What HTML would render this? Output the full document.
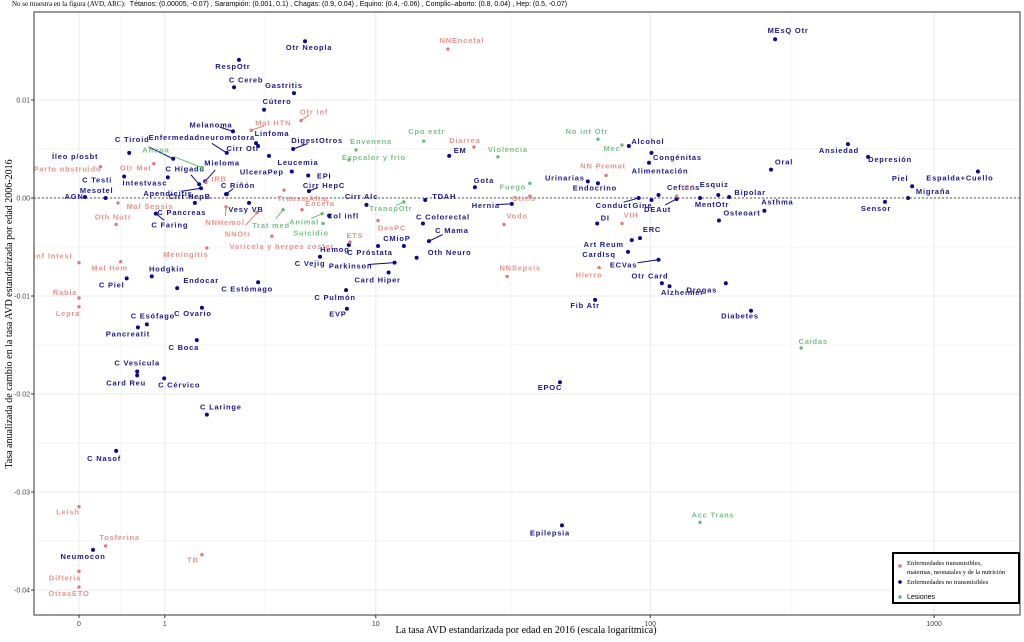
<!DOCTYPE html>
<html><head><meta charset="utf-8"><style>
body{margin:0;background:#fff;width:1024px;height:637px;overflow:hidden}
svg{font-family:"Liberation Sans",sans-serif}
.lb{font-size:7.5px;letter-spacing:0.8px;font-weight:bold}
</style></head><body>
<svg id="chart" width="1024" height="637" viewBox="0 0 1024 637" xmlns="http://www.w3.org/2000/svg">
<text x="12" y="6" font-size="7"><tspan font-family="Liberation Serif,serif">No se muestra en la figura (AVD, ARC):</tspan><tspan dx="4">Tétanos: (0.00005, -0.07) ,  Sarampión: (0.001, 0.1) ,  Chagas: (0.9, 0.04) ,  Equino: (0.4, -0.06) ,  Complic–aborto: (0.8, 0.04) ,  Hep: (0.5, -0.07)</tspan></text>
<g id="grid"></g>
<g id="marks"></g>
<rect x="34" y="12" width="986" height="603" fill="none" stroke="#555" stroke-width="1.2"/>
<g id="axes"></g>
<text x="526" y="633" text-anchor="middle" font-family="Liberation Serif,serif" font-size="10">La tasa AVD estandarizada por edad en 2016 (escala logarítmica)</text>
<text transform="translate(12,314) rotate(-90)" text-anchor="middle" font-family="Liberation Serif,serif" font-size="10">Tasa anualizada de cambio en la tasa AVD estandarizada por edad 2006-2016</text>
<g>
<rect x="893" y="553" width="126" height="50" fill="#fff" stroke="#000" stroke-width="2"/>
<circle cx="900" cy="566" r="1.8" fill="#e07b70"/>
<text x="907" y="565" font-family="Liberation Serif,serif" font-size="6.5">Enfermedades transmisibles,</text>
<text x="907" y="574" font-family="Liberation Serif,serif" font-size="6.5">maternas, neonatales y de la nutrición</text>
<circle cx="900" cy="582" r="1.8" fill="#00008b"/>
<text x="907" y="584" font-family="Liberation Serif,serif" font-size="6.5">Enfermedades no transmisibles</text>
<circle cx="900" cy="597" r="1.8" fill="#66bb77"/>
<text x="907" y="599" font-size="7">Lesiones</text>
</g>
</svg>
<script>
const names=["Otr Neopla","RespOtr","C Cereb","Gastritis","Cútero","Melanoma","Linfoma","Enfermedadneuromotora","Cirr Otr","Leucemia","DigestOtros","C Tiroid","Íleo p/osbt","Mieloma","C Hígado","UlceraPep","EPI","C Testi","Intestvasc","C Riñón","Cirr HepC","Mesotel","AGN","Apendicitis","Cirr HepB","Cirr Alc","TDAH","C Pancreas","Vesy VB","C Faring","Col infl","Hemog","C Vejig","C Próstata","C Colorectal","C Mama","CMioP","Oth Neuro","Parkinson","Card Hiper","C Pulmón","EVP","Hodgkin","Endocar","C Estómago","C Piel","C Esófago","Pancreatit","C Ovario","C Boca","C Vesícula","Card Reu","C Cérvico","C Laringe","C Nasof","Neumocon","Gota","Hernia","Urinarias","Endocrino","Alcohol","Congénitas","Alimentación","Conduct","Gine","Ceftens","DEAut","DI","ERC","Art Reum","CardIsq","ECVas","Otr Card","Alzheimer","Drogas","Fib Atr","Esquiz","MentOtr","Bipolar","Osteoart","Asthma","Oral","Ansiedad","Depresión","Piel","Migraña","Espalda+Cuello","Sensor","MEsQ Otr","Diabetes","EPOC","Epilepsia","EM",
"NNEncefal","Otr Inf","Mat HTN","Diarrea","Parto obstruido","Otr Mat","IRB","NN Premat","IRS","TransmAlim","Encefa","Otitis","Mal Sepsis","Oth Nutr","NNHemol","NNOtr","Varicela y herpes zoster","ETS","DesPC","Vodo","VIH","Meningitis","Inf Intest","Mal Hem","Rabia","Lepra","NNSepsis","Hierro","Leish","Tosferina","TB","Difteria","OtrasETO",
"Ahoga","Envenena","Cpo extr","Expcalor y frio","Violencia","No int Otr","Mec","Fuego","TranspOtr","Trat med","Animal","Suicidio","Caidas","Acc Trans"];
const avd=[5.21,2.64,2.50,4.68,3.46,2.47,3.18,2.30,3.25,3.64,4.64,1.14,0.50,1.77,1.64,4.58,5.37,0.44,1.05,2.28,5.41,0.24,0.05,1.68,2.30,9.2,15.4,1.55,2.95,0.86,6.54,7.85,6.01,10.2,15.1,15.9,12.8,14.3,11.8,11.2,7.65,7.71,0.80,1.21,3.25,0.47,0.73,0.61,1.70,1.59,0.60,0.60,0.99,1.81,0.35,0.12,23.5,32,60,65.2,84,101,99,91,101,107,124,64.8,92,86,83.4,107,110,117,185,63.7,174,150,190,175,253,267,498,586,837,810,1425,672,276,227,47.7,48.5,18.9,
18.7,5.01,3.02,23.3,0.19,0.83,1.79,69.7,124,4.24,5.06,37.2,0.37,0.35,2.28,3.21,3.75,7.93,10.2,30,79.4,1.81,0,0.40,0,0,30.8,65.8,0,0.24,1.70,0,0,
1.70,8.38,15.2,7.85,28.5,65.2,79.4,37.2,12.8,4.20,6.13,6.18,341,150];
const arc=[0.0160,0.0141,0.0113,0.0107,0.0090,0.0068,0.0056,0.0046,0.0053,0.0043,0.0050,0.0040,0.0046,0.0017,0.0014,0.0027,0.0023,0.0022,0.0021,0.0004,0.0007,0,0.0001,0.0010,0.0004,-0.0007,-0.0002,-0.0005,-0.0005,-0.0016,-0.0018,-0.0048,-0.0060,-0.0049,-0.0026,-0.0044,-0.0049,-0.0061,-0.0066,-0.0076,-0.0094,-0.0113,-0.0080,-0.0092,-0.0086,-0.0082,-0.0129,-0.0132,-0.0112,-0.0145,-0.0177,-0.0181,-0.0184,-0.0221,-0.0258,-0.0359,0.0011,-0.0006,0.0017,0.0015,0.0053,0.0046,0.0036,0,-0.0002,0.0003,-0.0001,-0.0026,-0.0041,-0.0043,-0.0055,-0.0063,-0.0087,-0.0090,-0.0087,-0.0104,0.0003,0,0.0001,-0.0023,-0.0013,0.0029,0.0055,0.0042,0.0012,0,0.0027,-0.0004,0.0162,-0.0115,-0.0188,-0.0334,0.0043,
0.0152,0.0079,0.0069,0.0052,0.0032,0.0035,0.0016,0.0023,0.0002,0.0008,-0.0012,0.0002,-0.0005,-0.0027,-0.0009,-0.0015,-0.0039,-0.0045,-0.0023,-0.0027,-0.0026,-0.0051,-0.0066,-0.0065,-0.0102,-0.0111,-0.0080,-0.0071,-0.0315,-0.0355,-0.0364,-0.0381,-0.0397,
0.0031,0.0049,0.0058,0.0039,0.0042,0.0060,0.0054,0.0015,-0.0004,-0.0012,-0.0016,-0.0026,-0.0153,-0.0331];
const groups=("n".repeat(93)+"c".repeat(33)+"l".repeat(14)).split("");
const xTicks=[0,1,10,100,1000];
const yTicks=[0.01,0,-0.01,-0.02,-0.03,-0.04];
const yTickLabels=["0.01","0.00","-0.01","-0.02","-0.03","-0.04"];
// label placement offsets (layout only)
const offs=[[4,6],[-6,6],[12,-8],[-10,-8],[13,-9],[-22,-7,1],[16,-10],[-25,-16,1],[-15,2],[29,6],[24,-9,1],[-41,-20,1],[-54,3],[17,-19,1],[-14,-16,1],[-30,0],[16,0],[-27,3],[-23,5],[12,-9,1],[15,-6,1],[-9,-8],[-11,-1],[-33,5,1],[-37,2],[-5,-9],[19,-4],[-13,9],[-3,6],[14,11,1],[14,0],[-14,4],[-10,6],[-8,6],[20,-7],[23,-11,1],[-7,-8],[33,-6],[-44,3,1],[-11,7],[-11,7],[-9,5],[15,-8],[24,-8],[-11,6],[-15,6],[6,-9],[-10,6],[-9,5],[-13,7],[0,-9],[-11,7],[15,6],[14,-8],[-12,7],[-10,6],[9,-7],[-26,1,1],[-23,-4],[-3,4],[19,-5],[26,4],[11,8],[-25,7,1],[-9,5],[25,-8],[-19,10,1],[8,-6],[12,-9],[-28,4],[-29,2],[-35,5,1],[-12,-8],[13,6],[-24,6],[-10,5],[-4,-11],[12,6],[21,-5],[23,-8],[13,-9],[13,-8],[-9,6],[22,2],[-12,-8],[25,-7],[-18,6],[-9,6],[13,-9],[-11,5],[-10,5],[-12,7],[11,-6],
[14,-9],[13,-9,1],[22,-8,1],[-9,-7],[-33,2],[-18,4],[13,-4],[-3,-10],[12,-9],[19,8],[18,-7],[-6,2],[32,3],[-3,-8],[-1,15,1],[-19,21,1],[10,10],[5,-7],[14,7],[13,-9],[9,-9],[-21,6],[-26,-7],[-11,6],[-14,-6],[-11,6],[13,-9],[-10,7],[-11,5],[14,-9],[-9,5],[-14,6],[-10,6],
[-46,-18,1],[15,-9],[3,-10],[25,-3],[10,-8],[-11,-8],[-10,3],[-17,3],[-13,6,1],[-12,15,1],[-18,8,1],[-12,9],[12,-7],[13,-8]];
const col={n:"#0a0a8a",c:"#e07b70",l:"#66bb77"};
const lcol={n:"#1a1a8a",c:"#e8958c",l:"#7cc08a"};
const NS="http://www.w3.org/2000/svg";
const X=v=>79+285*Math.log10(1+v);
const Y=v=>198-9800*v;
function mk(t,a,p){const e=document.createElementNS(NS,t);for(const k in a)e.setAttribute(k,a[k]);p.appendChild(e);return e;}
const grid=document.getElementById("grid"),axes=document.getElementById("axes"),marks=document.getElementById("marks");
[0.005,-0.005,-0.015,-0.025,-0.035].forEach(v=>{const l=mk("line",{x1:34,x2:1020,y1:Y(v),y2:Y(v),stroke:"#f3f3f3","stroke-width":0.8},grid);});
[0.4,3.5,32,316].forEach(v=>{const l=mk("line",{x1:X(v),x2:X(v),y1:12,y2:615,stroke:"#f3f3f3","stroke-width":0.8},grid);});
yTicks.forEach((v,i)=>{
 const l=mk("line",{x1:34,x2:1020,y1:Y(v),y2:Y(v),stroke:"#ebebeb","stroke-width":1},grid);
 
 mk("line",{x1:31,x2:34,y1:Y(v),y2:Y(v),stroke:"#333"},axes);
 const t=mk("text",{x:30,y:Y(v)+2.5,"text-anchor":"end","font-size":7,fill:"#444"},axes);t.textContent=yTickLabels[i];
 
});
xTicks.forEach(v=>{
 const l=mk("line",{x1:X(v),x2:X(v),y1:12,y2:615,stroke:"#ebebeb","stroke-width":1},grid);
 
 mk("line",{x1:X(v),x2:X(v),y1:615,y2:618,stroke:"#333"},axes);
 const t=mk("text",{x:X(v),y:626,"text-anchor":"middle","font-size":7,fill:"#444"},axes);t.textContent=String(v);
 
});
const z=mk("line",{x1:34,x2:1020,y1:Y(0),y2:Y(0),stroke:"#222","stroke-width":0.8,"stroke-dasharray":"2,2"},grid);

names.forEach((n,i)=>{
 const g=groups[i],px=X(avd[i]),py=Y(arc[i]),o=offs[i]||[8,-6];
 if(o[2]){const ln=mk("line",{x1:px,y1:py,x2:px+o[0]*0.6,y2:py+o[1]*0.6,stroke:col[g],"stroke-width":1},marks);
  }
 const c=mk("circle",{cx:px,cy:py,r:g==="n"?2:1.7,fill:col[g]},marks);
 
 
 const t=mk("text",{x:px+o[0],y:py+o[1]+3,"text-anchor":"middle",fill:lcol[g],class:"lb","font-weight":g==="n"?"bold":"normal"},marks);
 t.textContent=n;
 
 
});
</script>
</body></html>
